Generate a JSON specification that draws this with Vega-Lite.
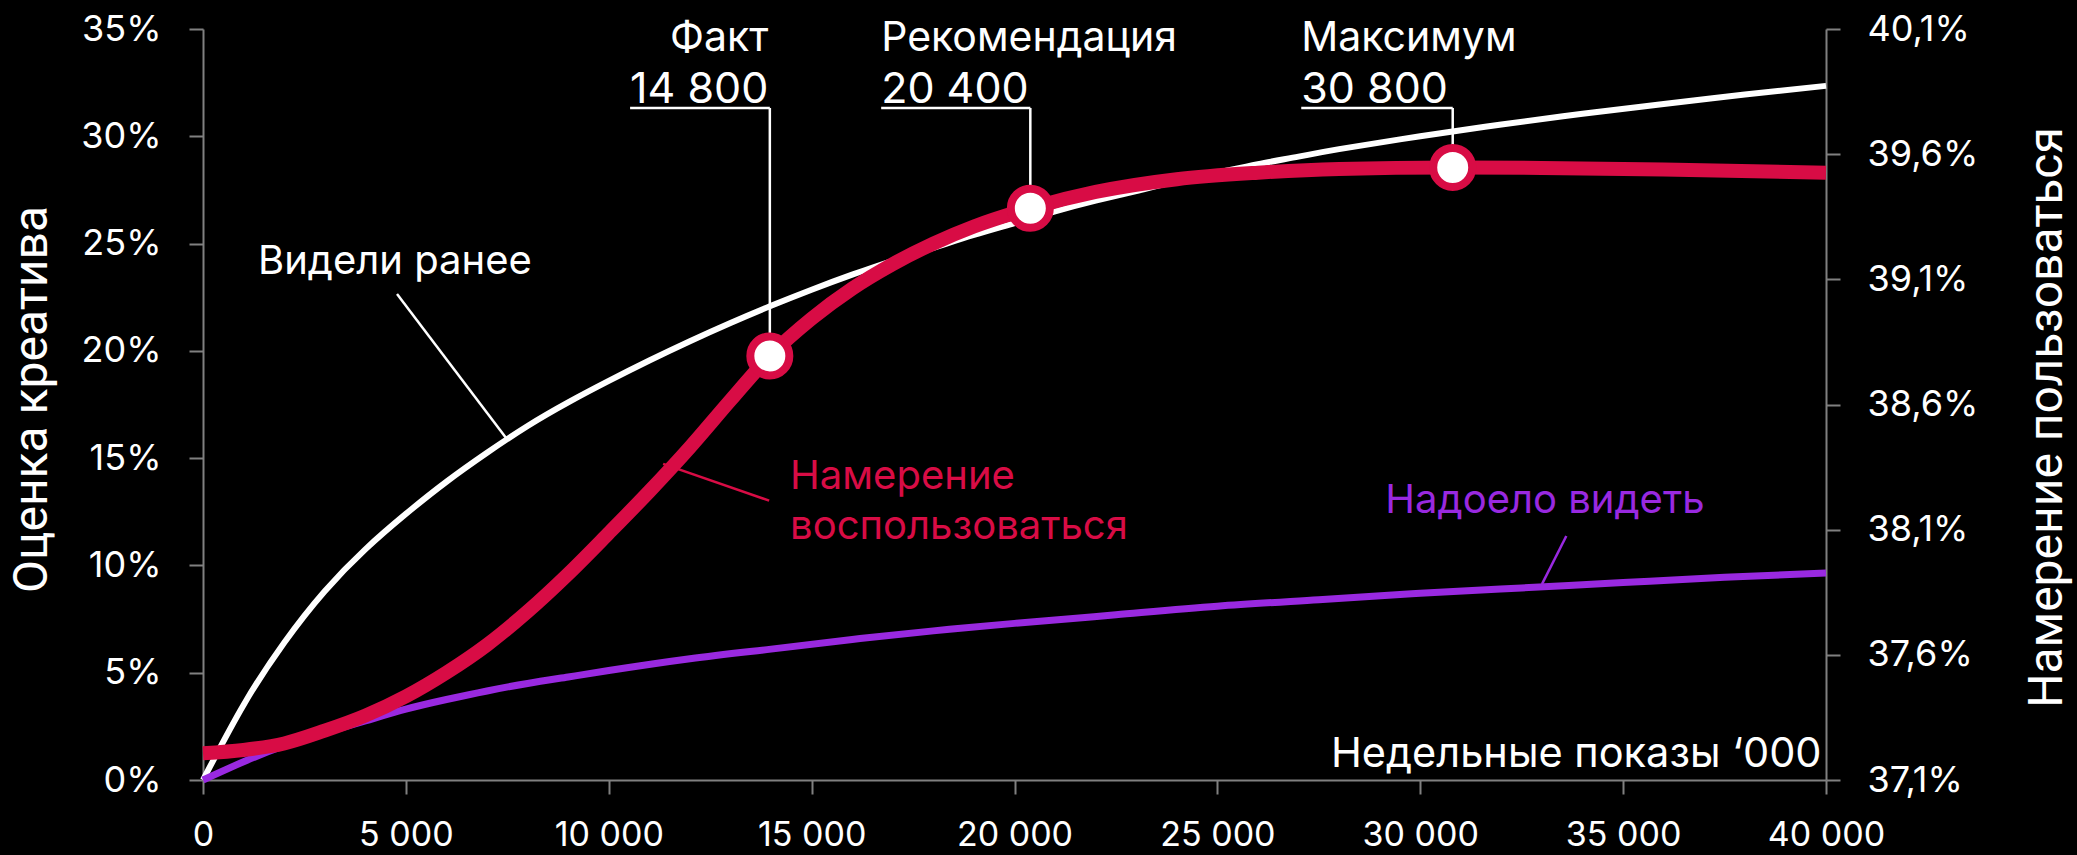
{
  "$schema": "https://vega.github.io/schema/vega-lite/v6.json",
  "width": 1623,
  "height": 751,
  "autosize": {"type": "none"},
  "padding": {"left": 203, "top": 29, "right": 251, "bottom": 75},
  "background": "#000000",
  "config": {
    "view": {"stroke": null},
    "font": "Inter",
    "axis": {
      "domainColor": "#808080", "domainWidth": 2,
      "tickColor": "#808080", "tickWidth": 2, "tickSize": 14,
      "labelColor": "#ffffff", "labelFont": "Inter", "labelFontSize": 34,
      "grid": false, "labelFlush": false, "labelOverlap": false,
      "titleColor": "#ffffff", "titleFontWeight": "normal"
    }
  },
  "datasets": {
    "seen": [
      {"x": 0, "v": 0}, {"x": 1000, "v": 3.5}, {"x": 2000, "v": 6.4}, {"x": 3000, "v": 8.8},
      {"x": 4000, "v": 10.75}, {"x": 5000, "v": 12.4}, {"x": 6000, "v": 13.9}, {"x": 7000, "v": 15.25},
      {"x": 8000, "v": 16.5}, {"x": 9000, "v": 17.6}, {"x": 10000, "v": 18.6}, {"x": 11000, "v": 19.55},
      {"x": 12000, "v": 20.45}, {"x": 13000, "v": 21.3}, {"x": 14000, "v": 22.1}, {"x": 15000, "v": 22.85},
      {"x": 16000, "v": 23.55}, {"x": 17000, "v": 24.2}, {"x": 18000, "v": 24.8}, {"x": 19000, "v": 25.4},
      {"x": 20000, "v": 25.95}, {"x": 21000, "v": 26.5}, {"x": 22000, "v": 27.0}, {"x": 23000, "v": 27.45},
      {"x": 24000, "v": 27.9}, {"x": 25000, "v": 28.3}, {"x": 26000, "v": 28.7}, {"x": 27000, "v": 29.05},
      {"x": 28000, "v": 29.4}, {"x": 30000, "v": 30.0}, {"x": 32000, "v": 30.55}, {"x": 34000, "v": 31.05},
      {"x": 36000, "v": 31.5}, {"x": 38000, "v": 31.95}, {"x": 40000, "v": 32.35}
    ],
    "fed": [
      {"x": 0, "v": 0}, {"x": 1000, "v": 0.85}, {"x": 2000, "v": 1.6}, {"x": 3000, "v": 2.2},
      {"x": 4000, "v": 2.75}, {"x": 5000, "v": 3.3}, {"x": 6000, "v": 3.75}, {"x": 7000, "v": 4.15},
      {"x": 8000, "v": 4.5}, {"x": 9000, "v": 4.8}, {"x": 10000, "v": 5.1}, {"x": 12000, "v": 5.65},
      {"x": 14000, "v": 6.1}, {"x": 16000, "v": 6.55}, {"x": 18000, "v": 6.95}, {"x": 20000, "v": 7.3},
      {"x": 22500, "v": 7.7}, {"x": 25000, "v": 8.1}, {"x": 27500, "v": 8.4}, {"x": 30000, "v": 8.7},
      {"x": 32500, "v": 8.95}, {"x": 35000, "v": 9.2}, {"x": 37500, "v": 9.45}, {"x": 40000, "v": 9.65}
    ],
    "intent": [
      {"x": 0, "v": 37.207}, {"x": 1000, "v": 37.22}, {"x": 2000, "v": 37.246}, {"x": 3000, "v": 37.297},
      {"x": 4000, "v": 37.357}, {"x": 5000, "v": 37.434}, {"x": 6000, "v": 37.529}, {"x": 7000, "v": 37.64},
      {"x": 8000, "v": 37.773}, {"x": 9000, "v": 37.923}, {"x": 10000, "v": 38.086}, {"x": 11000, "v": 38.253},
      {"x": 12000, "v": 38.429}, {"x": 13000, "v": 38.617}, {"x": 13970, "v": 38.794}, {"x": 15000, "v": 38.943},
      {"x": 16000, "v": 39.063}, {"x": 17000, "v": 39.161}, {"x": 18000, "v": 39.243}, {"x": 19000, "v": 39.311},
      {"x": 20390, "v": 39.384}, {"x": 22000, "v": 39.449}, {"x": 24000, "v": 39.5}, {"x": 26000, "v": 39.526},
      {"x": 28000, "v": 39.541}, {"x": 30800, "v": 39.547}, {"x": 33000, "v": 39.545}, {"x": 36000, "v": 39.539},
      {"x": 40000, "v": 39.526}
    ],
    "marks": [
      {"name": "Факт", "x": 13970, "v": 38.794},
      {"name": "Рекомендация", "x": 20390, "v": 39.384},
      {"name": "Максимум", "x": 30800, "v": 39.547}
    ],
    "lines": [
      {"x": 4782, "y": 22.65, "x2": 7470, "y2": 15.94, "series": "seen"},
      {"x": 11340, "y": 14.73, "x2": 13953, "y2": 13.02, "series": "intent"},
      {"x": 33000, "y": 9.13, "x2": 33600, "y2": 11.37, "series": "fed"},
      {"x": 13970, "y": 31.32, "x2": 13970, "y2": 19.76, "series": "note"},
      {"x": 20390, "y": 31.32, "x2": 20390, "y2": 26.65, "series": "note"},
      {"x": 30800, "y": 31.32, "x2": 30800, "y2": 28.55, "series": "note"},
      {"x": 10526, "y": 31.32, "x2": 13970, "y2": 31.32, "series": "note"},
      {"x": 16714, "y": 31.32, "x2": 20390, "y2": 31.32, "series": "note"},
      {"x": 27067, "y": 31.32, "x2": 30800, "y2": 31.32, "series": "note"}
    ],
    "notes": [
      {"text": "Видели ранее", "x": 1356, "y": 23.58, "series": "seen", "kind": "label"},
      {"text": "Намерение", "x": 14470, "y": 13.56, "series": "intent", "kind": "label"},
      {"text": "воспользоваться", "x": 14470, "y": 11.23, "series": "intent", "kind": "label"},
      {"text": "Надоело видеть", "x": 29140, "y": 12.44, "series": "fed", "kind": "label"},
      {"text": "Факт", "x": 11510, "y": 33.97, "series": "note", "kind": "head"},
      {"text": "Рекомендация", "x": 16714, "y": 33.97, "series": "note", "kind": "head"},
      {"text": "Максимум", "x": 27067, "y": 33.97, "series": "note", "kind": "head"},
      {"text": "14 800", "x": 10526, "y": 31.55, "series": "note", "kind": "num"},
      {"text": "20 400", "x": 16714, "y": 31.55, "series": "note", "kind": "num"},
      {"text": "30 800", "x": 27067, "y": 31.55, "series": "note", "kind": "num"}
    ]
  },
  "layer": [
    {
      "layer": [
        {
          "data": {"name": "seen"},
          "mark": {"type": "line", "color": "#ffffff", "strokeWidth": 6, "interpolate": "natural", "strokeCap": "butt"},
          "encoding": {
            "x": {
              "field": "x", "type": "quantitative",
              "scale": {"domain": [0, 40000], "nice": false},
              "axis": {
                "values": [0, 5000, 10000, 15000, 20000, 25000, 30000, 35000, 40000],
                "labelExpr": "replace(format(datum.value, ','), ',', ' ')",
                "labelPadding": 24,
                "title": "Недельные показы ‘000",
                "titleFont": "Inter", "titleFontSize": 41.5,
                "titleX": 1618, "titleY": -14, "titleAlign": "right",
                "titleBaseline": "alphabetic", "titleAngle": 0
              }
            },
            "y": {
              "field": "v", "type": "quantitative",
              "scale": {"domain": [0, 35], "nice": false},
              "axis": {
                "orient": "left",
                "values": [0, 5, 10, 15, 20, 25, 30, 35],
                "labelExpr": "datum.value + '%'",
                "labelPadding": 28,
                "labelFontSize": 36,
                "title": "Оценка креатива",
                "titleFont": "Roboto", "titleFontSize": 48,
                "titleAngle": 270, "titleX": -171, "titleY": 370,
                "titleAlign": "center", "titleBaseline": "middle"
              }
            }
          }
        },
        {
          "data": {"name": "fed"},
          "mark": {"type": "line", "color": "#9929e0", "strokeWidth": 7, "interpolate": "natural", "strokeCap": "butt"},
          "encoding": {
            "x": {"field": "x", "type": "quantitative"},
            "y": {"field": "v", "type": "quantitative"}
          }
        },
        {
          "data": {"name": "lines"},
          "mark": {"type": "rule", "strokeWidth": 2.5},
          "encoding": {
            "x": {"field": "x", "type": "quantitative"},
            "x2": {"field": "x2"},
            "y": {"field": "y", "type": "quantitative"},
            "y2": {"field": "y2"},
            "color": {
              "field": "series", "type": "nominal", "legend": null,
              "scale": {"domain": ["seen", "intent", "fed", "note"], "range": ["#ffffff", "#d80c45", "#9929e0", "#ffffff"]}
            }
          }
        },
        {
          "data": {"name": "notes"},
          "transform": [{"filter": "datum.kind === 'label'"}],
          "mark": {"type": "text", "align": "left", "baseline": "alphabetic", "fontSize": 40, "font": "Inter"},
          "encoding": {
            "x": {"field": "x", "type": "quantitative"},
            "y": {"field": "y", "type": "quantitative"},
            "text": {"field": "text"},
            "color": {"field": "series", "type": "nominal", "legend": null}
          }
        },
        {
          "data": {"name": "notes"},
          "transform": [{"filter": "datum.kind === 'head'"}],
          "mark": {"type": "text", "align": "left", "baseline": "alphabetic", "fontSize": 41, "font": "Inter"},
          "encoding": {
            "x": {"field": "x", "type": "quantitative"},
            "y": {"field": "y", "type": "quantitative"},
            "text": {"field": "text"},
            "color": {"field": "series", "type": "nominal", "legend": null}
          }
        },
        {
          "data": {"name": "notes"},
          "transform": [{"filter": "datum.kind === 'num'"}],
          "mark": {"type": "text", "align": "left", "baseline": "alphabetic", "fontSize": 43, "font": "Inter"},
          "encoding": {
            "x": {"field": "x", "type": "quantitative"},
            "y": {"field": "y", "type": "quantitative"},
            "text": {"field": "text"},
            "color": {"field": "series", "type": "nominal", "legend": null}
          }
        }
      ]
    },
    {
      "layer": [
        {
          "data": {"name": "intent"},
          "mark": {"type": "line", "color": "#d80c45", "strokeWidth": 14, "interpolate": "monotone", "strokeCap": "butt"},
          "encoding": {
            "x": {"field": "x", "type": "quantitative"},
            "y": {
              "field": "v", "type": "quantitative",
              "scale": {"domain": [37.1, 40.1], "nice": false, "zero": false},
              "axis": {
                "orient": "right",
                "values": [37.1, 37.6, 38.1, 38.6, 39.1, 39.6, 40.1],
                "labelExpr": "replace(format(datum.value, '.1f'), '.', ',') + '%'",
                "labelPadding": 27,
                "labelFontSize": 36,
                "title": "Намерение пользоваться",
                "titleFont": "Roboto", "titleFontSize": 48,
                "titleAngle": 270, "titleX": 221, "titleY": 388,
                "titleAlign": "center", "titleBaseline": "middle"
              }
            }
          }
        },
        {
          "data": {"name": "marks"},
          "mark": {"type": "point", "shape": "circle", "filled": true, "fill": "#ffffff", "stroke": "#d80c45", "strokeWidth": 8, "size": 1521, "opacity": 1},
          "encoding": {
            "x": {"field": "x", "type": "quantitative"},
            "y": {"field": "v", "type": "quantitative"}
          }
        }
      ]
    }
  ],
  "resolve": {"scale": {"y": "independent"}}
}
